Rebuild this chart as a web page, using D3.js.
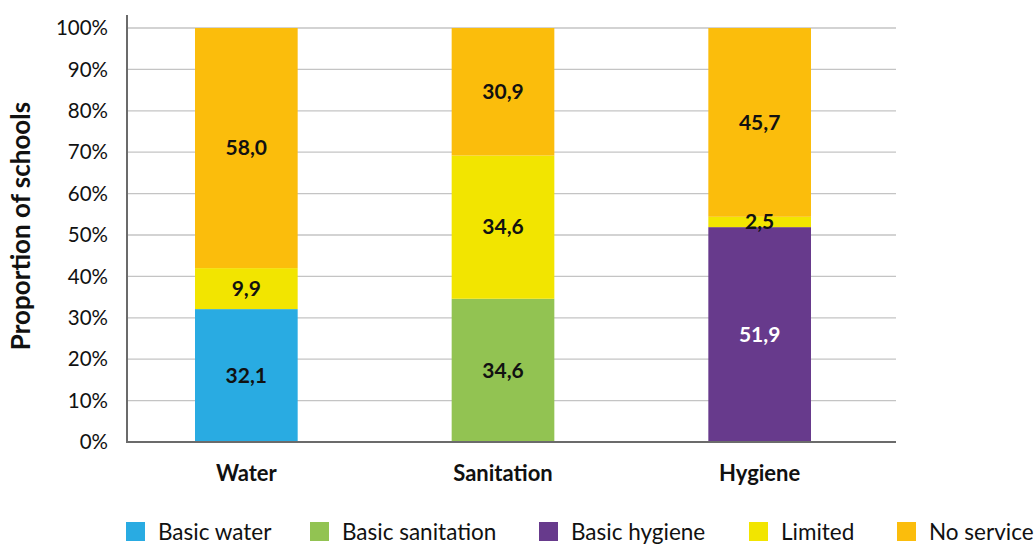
<!DOCTYPE html>
<html>
<head>
<meta charset="utf-8">
<script src="https://cdn.jsdelivr.net/npm/d3@7"></script>
<style>
  html, body { margin: 0; padding: 0; background: #fff; }
  svg { display: block; font-family: "Lato", "Noto Sans", sans-serif; }
</style>
</head>
<body>
<svg id="chart" width="1035" height="545"></svg>
<script>
// Service levels in schools (% of schools)
const categories = ["Water", "Sanitation", "Hygiene"];
const seriesNames = ["Basic water", "Basic sanitation", "Basic hygiene", "Limited", "No service"];
const seriesColors = ["#29abe2", "#92c352", "#673a8c", "#f2e500", "#fbbd0c"];
const basicValues = [32.1, 34.6, 51.9];       // basic service, per category
const limitedValues = [9.9, 34.6, 2.5];
const noServiceValues = [58.0, 30.9, 45.7];
const yTicks = [0, 10, 20, 30, 40, 50, 60, 70, 80, 90, 100];
const yTitle = "Proportion of schools";

const svg = d3.select("#chart");
const plot = { left: 127, right: 896, top: 28, bottom: 442 };

const x = d3.scaleBand().domain(categories).range([118, 888])
  .paddingInner(0.6).paddingOuter(0.3);
const y = d3.scaleLinear().domain([0, 100]).range([plot.bottom, plot.top]);

// Gridlines
svg.append("g").selectAll("line").data(yTicks.filter(t => t > 0)).join("line")
  .attr("x1", plot.left).attr("x2", plot.right)
  .attr("y1", d => y(d)).attr("y2", d => y(d))
  .attr("stroke", "#c4c4c4").attr("stroke-width", 1.3);

// Y tick labels
svg.append("g").selectAll("text").data(yTicks).join("text")
  .attr("x", 108).attr("y", d => y(d)).attr("dy", "0.35em")
  .attr("text-anchor", "end").attr("font-size", 20.5).attr("fill", "#111")
  .text(d => d + "%");

// Stacked segments
const rows = categories.map((c, i) => ({
  cat: c, idx: i,
  segs: [
    { key: seriesNames[i], color: seriesColors[i], value: basicValues[i], textColor: i === 2 ? "#fff" : "#111" },
    { key: "Limited", color: seriesColors[3], value: limitedValues[i], textColor: "#111" },
    { key: "No service", color: seriesColors[4], value: noServiceValues[i], textColor: "#111" }
  ]
}));
rows.forEach(r => {
  let acc = 0;
  r.segs.forEach(s => { s.y0 = acc; acc += s.value; s.y1 = acc; });
});

const bars = svg.append("g");
rows.forEach(r => {
  const g = bars.append("g");
  g.selectAll("rect").data(r.segs).join("rect")
    .attr("x", x(r.cat)).attr("width", x.bandwidth())
    .attr("y", d => y(Math.min(d.y1, 100))).attr("height", d => y(d.y0) - y(Math.min(d.y1, 100)))
    .attr("fill", d => d.color);
  g.selectAll("text").data(r.segs).join("text")
    .attr("x", x(r.cat) + x.bandwidth() / 2)
    .attr("y", d => y((d.y0 + Math.min(d.y1, 100)) / 2)).attr("dy", "0.35em")
    .attr("text-anchor", "middle").attr("font-size", 21).attr("font-weight", 700)
    .attr("fill", d => d.textColor)
    .text(d => d.value.toFixed(1).replace(".", ","));
});

// Axis lines
svg.append("line").attr("x1", plot.left).attr("x2", plot.left)
  .attr("y1", 15).attr("y2", plot.bottom + 0.5)
  .attr("stroke", "#6b6b6b").attr("stroke-width", 2);
svg.append("line").attr("x1", plot.left - 1).attr("x2", plot.right)
  .attr("y1", plot.bottom).attr("y2", plot.bottom)
  .attr("stroke", "#6b6b6b").attr("stroke-width", 2);

// Category labels
svg.append("g").selectAll("text").data(categories).join("text")
  .attr("x", d => x(d) + x.bandwidth() / 2).attr("y", 481)
  .attr("text-anchor", "middle").attr("font-size", 22).attr("font-weight", 700)
  .attr("fill", "#111").text(d => d);

// Y axis title
svg.append("text")
  .attr("transform", `translate(30, 226) rotate(-90)`)
  .attr("text-anchor", "middle").attr("font-size", 26).attr("font-weight", 700)
  .attr("fill", "#111").text(yTitle);

// Legend
const legendX = [126, 310, 539, 749, 897];
const legend = svg.append("g").selectAll("g").data(seriesNames).join("g")
  .attr("transform", (d, i) => `translate(${legendX[i]}, 522)`);
legend.append("rect").attr("width", 19).attr("height", 19)
  .attr("fill", (d, i) => seriesColors[i]);
legend.append("text").attr("x", 32).attr("y", 10).attr("dy", "0.36em")
  .attr("font-size", 22.5).attr("fill", "#111").text(d => d);
</script>
</body>
</html>
